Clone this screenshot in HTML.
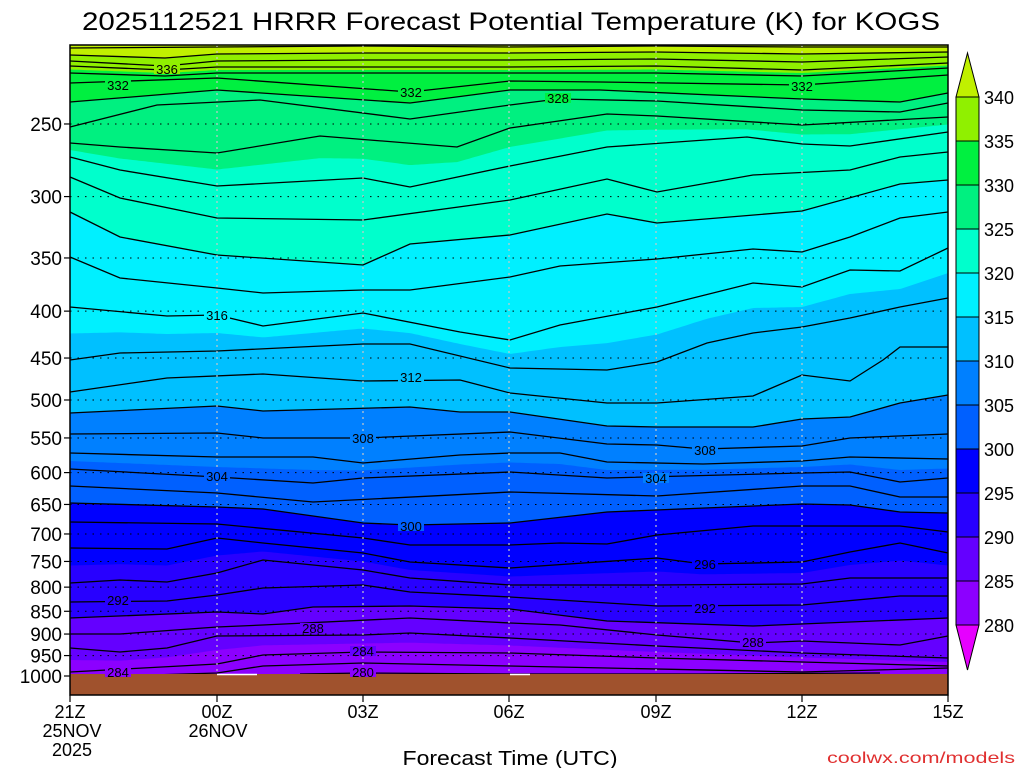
<!DOCTYPE html>
<html><head><meta charset="utf-8"><style>
html,body{margin:0;padding:0;background:#fff;}
svg{display:block;font-family:"Liberation Sans",sans-serif;}
</style></head><body>
<svg id="s" width="1024" height="768" viewBox="0 0 1024 768" xmlns="http://www.w3.org/2000/svg">
<rect width="1024" height="768" fill="#fff"/>
<g id="fills"></g>
<g id="lines" fill="none" stroke="#000" stroke-width="1.3"></g>
<g id="grid"></g>
<rect x="70" y="674" width="878" height="21" fill="#a0522d"/>
<line x1="217" y1="674.5" x2="257" y2="674.5" stroke="#fff" stroke-width="1.5"/>
<line x1="510" y1="674.5" x2="530" y2="674.5" stroke="#fff" stroke-width="1.5"/>
<g id="labels" font-size="13"></g>
<rect x="70" y="45" width="878" height="650" fill="none" stroke="#000" stroke-width="1.5"/>
<g id="axes"></g>
<text x="511" y="30" font-size="25" text-anchor="middle" textLength="858" lengthAdjust="spacingAndGlyphs">2025112521 HRRR Forecast Potential Temperature (K) for KOGS</text>
<text x="510" y="765" font-size="20" text-anchor="middle" textLength="215" lengthAdjust="spacingAndGlyphs">Forecast Time (UTC)</text>
<text x="1015" y="763" font-size="16" text-anchor="end" fill="#e03030" textLength="188" lengthAdjust="spacingAndGlyphs">coolwx.com/models</text>
<g id="cbar"></g>
</svg>
<script>
var NS="http://www.w3.org/2000/svg";
function el(p,t,a,txt){var e=document.createElementNS(NS,t);for(var k in a)e.setAttribute(k,a[k]);if(txt!==undefined)e.textContent=txt;p.appendChild(e);return e;}
var L={
342:[[70,48],[217,47],[363,46],[509,47],[656,46],[802,47],[948,47]],
340:[[70,55],[165,58],[217,54],[363,53],[509,53],[656,52],[802,54],[948,52]],
338:[[70,61],[165,66],[217,61],[363,60],[509,60],[656,59],[802,62],[948,57]],
336:[[70,66],[165,70],[217,67],[363,67],[509,67],[656,66],[802,70],[948,63]],
334:[[70,73],[165,76],[217,73],[363,73],[509,73],[656,73],[802,76],[948,68]],
332:[[70,83],[217,78],[410,92],[510,81],[600,82],[802,85],[948,75]],
330:[[70,102],[217,90],[410,103],[510,90],[600,90],[802,99],[900,102],[948,93]],
328:[[70,127],[157,105],[260,100],[410,119],[510,105],[558,99],[657,101],[802,110],[900,112],[948,103]],
326:[[70,143],[120,147],[217,153],[320,136],[457,147],[510,128],[607,114],[657,116],[802,125],[948,117]],
324:[[70,157],[120,170],[217,186],[363,178],[410,187],[510,166],[607,147],[747,137],[802,144],[850,146],[948,132]],
322:[[70,177],[120,198],[217,218],[363,220],[510,200],[607,179],[657,192],[753,175],[850,170],[900,157],[948,152]],
320:[[70,212],[120,237],[217,255],[363,265],[410,244],[510,235],[607,214],[657,223],[802,211],[900,184],[948,180]],
318:[[70,257],[120,278],[217,288],[263,293],[363,290],[410,290],[510,277],[560,266],[657,259],[753,249],[802,252],[850,237],[900,218],[948,212]],
316:[[70,307],[167,316],[217,315],[263,326],[363,313],[460,332],[510,340],[560,325],[657,307],[753,283],[802,287],[850,270],[900,271],[948,248]],
314:[[70,360],[120,353],[217,351],[363,344],[410,344],[510,368],[607,370],[657,362],[707,343],[753,333],[802,327],[850,318],[900,307],[948,298]],
312:[[70,392],[167,378],[263,374],[363,381],[460,380],[510,393],[607,403],[657,403],[753,396],[802,375],[850,381],[883,360],[900,347],[948,347]],
310:[[70,413],[217,406],[263,411],[410,407],[460,412],[510,412],[607,426],[657,427],[753,427],[802,419],[850,417],[900,403],[948,395]],
308:[[70,434],[217,433],[263,438],[363,438],[510,432],[607,444],[657,445],[703,449],[802,446],[850,438],[948,434]],
306:[[70,453],[217,457],[313,457],[363,463],[460,455],[510,453],[560,453],[607,462],[703,464],[802,461],[850,457],[948,459]],
304:[[70,469],[217,477],[313,483],[363,478],[510,472],[607,478],[802,473],[850,472],[900,482],[948,478]],
302:[[70,486],[217,493],[313,502],[510,492],[657,496],[802,486],[850,486],[900,497],[948,497]],
300:[[70,503],[217,507],[263,509],[363,523],[410,525],[510,523],[607,512],[802,504],[850,505],[900,512],[948,513]],
298:[[70,522],[217,524],[363,538],[410,545],[510,545],[560,543],[607,544],[657,535],[753,526],[900,526],[948,532]],
296:[[70,548],[167,549],[217,538],[263,543],[363,553],[410,562],[510,568],[657,558],[703,564],[802,562],[850,552],[900,543],[948,553]],
294:[[70,583],[120,580],[167,582],[217,573],[263,560],[363,570],[410,578],[510,585],[657,585],[802,584],[850,578],[948,578]],
292:[[70,602],[167,601],[217,595],[263,588],[363,585],[410,592],[510,597],[657,606],[802,605],[900,596],[948,596]],
290:[[70,618],[217,612],[263,614],[313,607],[410,606],[510,609],[607,621],[753,626],[948,618]],
288:[[70,634],[120,634],[217,627],[263,625],[410,618],[510,623],[560,625],[657,635],[753,643],[802,641],[900,645],[948,636]],
286:[[70,648],[120,652],[167,648],[217,636],[363,635],[410,633],[510,638],[657,646],[802,653],[948,658]],
284:[[70,672],[217,664],[263,655],[363,652],[510,653],[657,658],[802,662],[948,666]],
282:[[120,676],[217,673],[263,666],[363,663],[510,666],[802,672],[948,668]],
280:[[300,674],[363,673],[510,674],[700,674],[880,673]]
};
function yAt(pts,x){if(x<=pts[0][0])return pts[0][1];for(var i=1;i<pts.length;i++){if(x<=pts[i][0]){var a=pts[i-1],b=pts[i];return a[1]+(b[1]-a[1])*(x-a[0])/(b[0]-a[0]);}}return pts[pts.length-1][1];}
var COL={280:'#8c00ff',285:'#6400ff',290:'#2800ff',295:'#0000ff',300:'#0060ff',305:'#0080ff',310:'#00c0ff',315:'#00f0ff',320:'#00ffcc',325:'#00f080',330:'#00f040',335:'#90f000',340:'#c0f000'};
var B={};
[285,290,295,300,305,310,315,320,325,330,335,340].forEach(function(v){
  B[v]=function(x){ if(L[v])return yAt(L[v],x); return (yAt(L[v-1],x)+yAt(L[v+1],x))/2;};
});
var fills=document.getElementById('fills');
el(fills,'rect',{x:70,y:45,width:878,height:650,fill:COL[280]});
[285,290,295,300,305,310,315,320,325,330,335,340].forEach(function(v){
  var d='M70,45';
  for(var x=70;x<=948;x+=3){d+=' L'+x+','+B[v](x).toFixed(1);}
  d+=' L948,'+B[v](948).toFixed(1)+' L948,45 Z';
  el(fills,'path',{d:d,fill:COL[v]});
});
function colAt(x,y){var c=COL[280];[285,290,295,300,305,310,315,320,325,330,335,340].forEach(function(v){if(y<B[v](x))c=COL[v];});return c;}
var lines=document.getElementById('lines');
for(var k in L){el(lines,'polyline',{points:L[k].map(function(p){return p.join(',');}).join(' ')});}
var grid=document.getElementById('grid'),axes=document.getElementById('axes');
var P=[250,300,350,400,450,500,550,600,650,700,750,800,850,900,950,1000];
P.forEach(function(p){var y=676-398.2*Math.log(1000/p);
 el(grid,'line',{x1:70,x2:948,y1:y,y2:y,stroke:'#000','stroke-width':1,'stroke-dasharray':'1.5,6'});
 el(axes,'line',{x1:64,x2:70,y1:y,y2:y,stroke:'#000','stroke-width':1.2});
 el(axes,'text',{x:62,y:y+7,'font-size':19,'text-anchor':'end'},String(p));
});
var XS=[70,217,363,509,656,802,948],XL=['21Z','00Z','03Z','06Z','09Z','12Z','15Z'];
XS.forEach(function(x,i){
 if(i>0&&i<6)el(grid,'line',{x1:x,x2:x,y1:45,y2:695,stroke:'#c8c8c8','stroke-width':1.2,'stroke-dasharray':'2,4'});
 el(axes,'line',{x1:x,x2:x,y1:695,y2:702,stroke:'#000','stroke-width':1.2});
 el(axes,'text',{x:x,y:718,'font-size':18,'text-anchor':'middle'},XL[i]);
});
el(axes,'text',{x:72,y:737,'font-size':18,'text-anchor':'middle'},'25NOV');
el(axes,'text',{x:72,y:756,'font-size':18,'text-anchor':'middle'},'2025');
el(axes,'text',{x:218,y:737,'font-size':18,'text-anchor':'middle'},'26NOV');
var lab=document.getElementById('labels');
[[336,167,69],[332,118,85],[332,411,92],[328,558,98],[332,802,86],[316,217,315],[312,411,377],[308,363,438],[308,705,450],[304,217,476],[304,656,478],[300,411,526],[296,705,564],[292,118,600],[292,705,608],[288,313,628],[288,753,642],[284,363,651],[284,118,672],[280,363,672]].forEach(function(a){
 var x=a[1],y=a[2];
 el(lab,'rect',{x:x-13,y:y-5,width:26,height:10,fill:colAt(x,y-9)});
 el(lab,'text',{x:x,y:y+5,'text-anchor':'middle'},String(a[0]));
});
var cb=document.getElementById('cbar');
var vals=[335,330,325,320,315,310,305,300,295,290,285,280];
vals.forEach(function(v,i){el(cb,'rect',{x:956,y:97+i*44,width:23,height:44,fill:COL[v],stroke:'#000','stroke-width':1});});
el(cb,'polygon',{points:'956,97 979,97 967.5,53',fill:'#c0f000',stroke:'#000','stroke-width':1});
el(cb,'polygon',{points:'956,625 979,625 967.5,670',fill:'#e600ff',stroke:'#000','stroke-width':1});
[340,335,330,325,320,315,310,305,300,295,290,285,280].forEach(function(v,i){el(cb,'text',{x:984,y:104+i*44,'font-size':18},String(v));});
</script>
</body></html>
